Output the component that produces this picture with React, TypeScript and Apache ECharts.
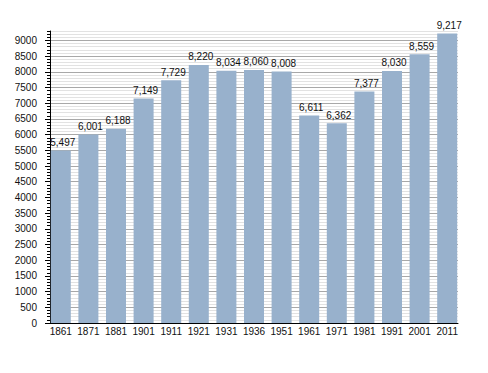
import React, { useEffect, useRef } from "react";
import * as echarts from "echarts";

const categories = ["1861", "1871", "1881", "1901", "1911", "1921", "1931", "1936", "1951", "1961", "1971", "1981", "1991", "2001", "2011"];
const population = [5497, 6001, 6188, 7149, 7729, 8220, 8034, 8060, 8008, 6611, 6362, 7377, 8030, 8559, 9217];
const yMax = 9300;
const yLabelMax = 9000;

const FONT = "'Liberation Sans', Arial, Helvetica, sans-serif";
const TOP = 31;
const BOTTOM = 50;
const HEIGHT = 373 - TOP - BOTTOM;

export default function App() {
  const ref = useRef<HTMLDivElement>(null);
  useEffect(() => {
    if (!ref.current) return;
    const chart = echarts.init(ref.current, null, { renderer: "svg" });
    const majorTop = TOP + (HEIGHT * (yMax - yLabelMax)) / yMax;
    const minorColors = ["#a8a8a8", "#e2e2e2", "#e2e2e2", "#e2e2e2", "#e2e2e2"];
    chart.setOption({
      animation: false,
      backgroundColor: "#ffffff",
      grid: [
        { left: 50, right: 30, top: TOP, bottom: BOTTOM },
        { left: 47, right: 27, top: TOP, bottom: BOTTOM },
        { left: 50, right: 30, top: majorTop, bottom: BOTTOM },
      ],
      xAxis: [
        {
          type: "category",
          gridIndex: 0,
          data: categories,
          axisLine: { show: true, lineStyle: { color: "#000", width: 1 } },
          axisTick: { show: false },
          axisLabel: { show: false },
          splitLine: { show: false },
        },
        {
          type: "category",
          gridIndex: 1,
          data: categories,
          axisLine: { show: false },
          axisTick: { show: false },
          axisLabel: { show: true, fontSize: 10, color: "#111", fontFamily: FONT, margin: 3, interval: 0 },
          splitLine: { show: false },
        },
        { type: "value", gridIndex: 2, show: false },
      ],
      yAxis: [
        {
          type: "value",
          gridIndex: 0,
          min: 0,
          max: yMax,
          interval: 100,
          axisLine: { show: true, lineStyle: { color: "#000", width: 1 } },
          axisTick: { show: true, length: 3, lineStyle: { color: "#000" } },
          axisLabel: { show: false },
          splitLine: { show: true, lineStyle: { color: minorColors, width: 1 } },
        },
        { type: "value", gridIndex: 1, min: 0, max: yMax, show: false },
        {
          type: "value",
          gridIndex: 2,
          min: 0,
          max: yLabelMax,
          interval: 500,
          axisLine: { show: false },
          axisTick: { show: true, length: 5, lineStyle: { color: "#000" } },
          axisLabel: {
            show: true,
            fontSize: 10,
            color: "#111",
            fontFamily: FONT,
            margin: 13,
            formatter: (v: number) => String(v),
          },
          splitLine: { show: false },
        },
      ],
      series: [
        {
          type: "bar",
          xAxisIndex: 1,
          yAxisIndex: 1,
          data: population,
          barWidth: 20,
          itemStyle: { color: "#98b1cc" },
          label: {
            show: true,
            position: "top",
            distance: 3,
            offset: [2, 0],
            fontSize: 10,
            color: "#111",
            fontFamily: FONT,
            formatter: (p: any) => Number(p.value).toLocaleString("en-US"),
          },
        },
      ],
    });
    return () => chart.dispose();
  }, []);
  return <div ref={ref} style={{ position: "absolute", left: 0, top: 0, width: 488, height: 373 }} />;
}
